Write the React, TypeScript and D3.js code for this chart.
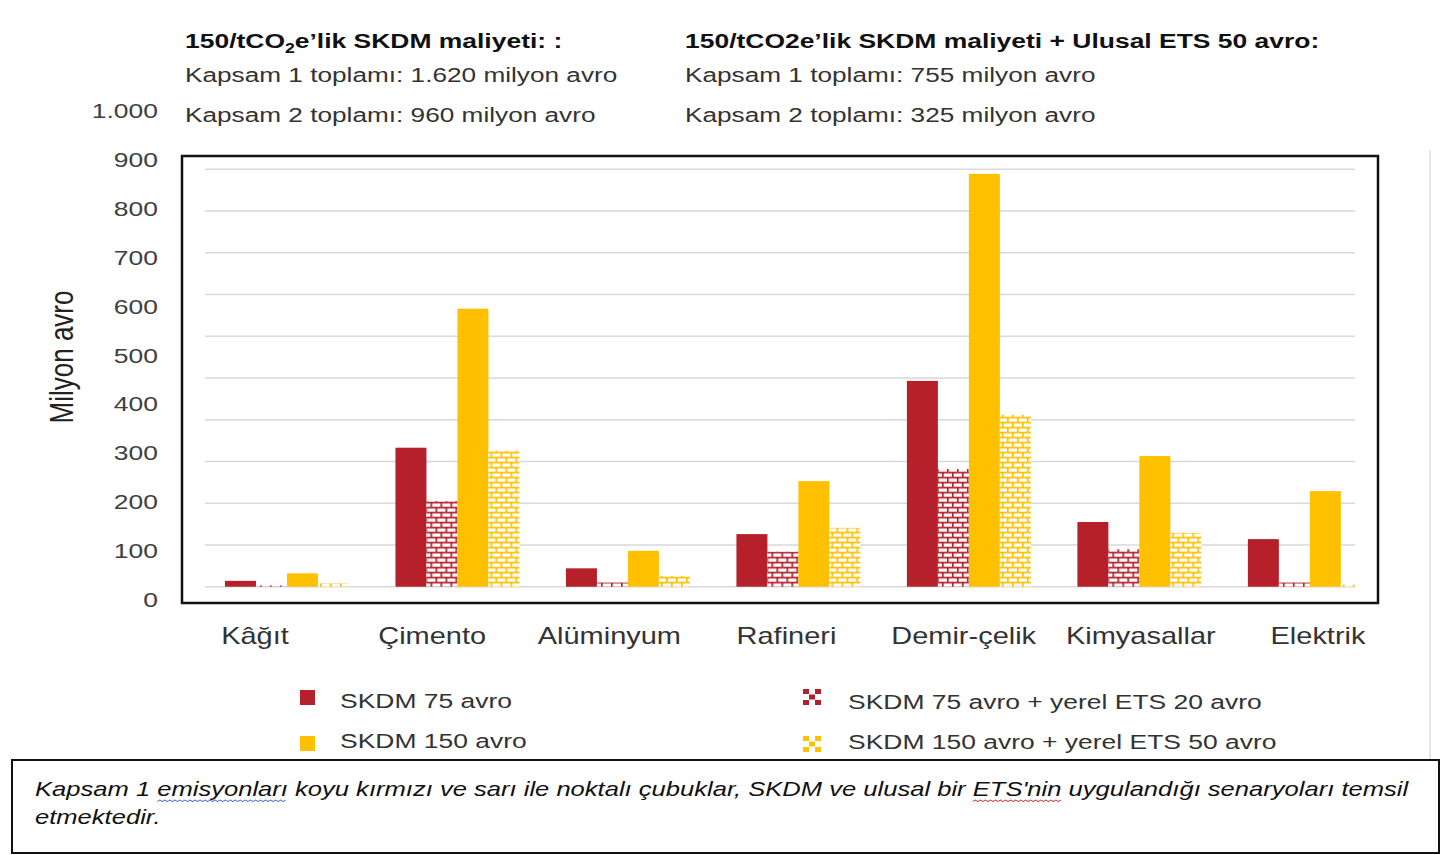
import React, { useEffect, useRef } from 'react';
import * as d3 from 'd3';

const categories = ['Kâğıt', 'Çimento', 'Alüminyum', 'Rafineri', 'Demir-çelik', 'Kimyasallar', 'Elektrik'];
const skdm75 = [14, 333, 44, 126, 493, 155, 114];
const skdm75Ets20 = [3, 205, 10, 84, 282, 90, 10];
const skdm150 = [32, 666, 86, 253, 989, 313, 229];
const skdm150Ets50 = [8, 326, 26, 141, 412, 129, 5];
const yTicks = [0, 100, 200, 300, 400, 500, 600, 700, 800, 900, 1000];

const seriesKeys = ['s75', 's75e', 's150', 's150e'];
const legendLabels = ['SKDM 75 avro', 'SKDM 150 avro', 'SKDM 75 avro + yerel ETS 20 avro', 'SKDM 150 avro + yerel ETS 50 avro'];

const leftHeader = ['Kapsam 1 toplamı: 1.620 milyon avro', 'Kapsam 2 toplamı: 960 milyon avro'];
const rightHeader = ['Kapsam 1 toplamı: 755 milyon avro', 'Kapsam 2 toplamı: 325 milyon avro'];
const captionLines = [
  "Kapsam 1 emisyonları koyu kırmızı ve sarı ile noktalı çubuklar, SKDM ve ulusal bir ETS'nin uygulandığı senaryoları temsil",
  'etmektedir.',
];

const RED = '#b5202b';
const YELLOW = '#ffc000';
const SX = 1.26; // the picture is stretched sideways
const FONT = '"Liberation Sans", Arial, sans-serif';

function App() {
  const ref = useRef(null);

  useEffect(() => {
    document.body.style.margin = '0';
    const svg = d3.select(ref.current);
    svg.selectAll('*').remove();

    const width = 1455;
    const height = 855;
    svg.attr('width', width).attr('height', height).style('background', '#fff').style('font-family', FONT);

    const txt = (x, y, s, size, opts = {}) =>
      svg
        .append('text')
        .attr('transform', `translate(${x},${y}) scale(${SX},1)`)
        .attr('font-size', size)
        .attr('fill', opts.fill || '#333')
        .attr('font-weight', opts.bold ? 'bold' : null)
        .attr('font-style', opts.italic ? 'italic' : null)
        .attr('text-anchor', opts.anchor || 'start')
        .text(s);

    // patterns
    const defs = svg.append('defs');
    const brick = (id, color) => {
      const p = defs
        .append('pattern')
        .attr('id', id)
        .attr('patternUnits', 'userSpaceOnUse')
        .attr('width', 10)
        .attr('height', 10)
        .attr('patternTransform', 'translate(0,586.7)');
      p.append('rect').attr('width', 10).attr('height', 10).attr('fill', '#fff');
      p.append('rect').attr('y', 0).attr('width', 10).attr('height', 1.7).attr('fill', color);
      p.append('rect').attr('y', 5).attr('width', 10).attr('height', 1.7).attr('fill', color);
      p.append('rect').attr('x', 0).attr('y', 0).attr('width', 1.7).attr('height', 5).attr('fill', color);
      p.append('rect').attr('x', 5).attr('y', 5).attr('width', 1.7).attr('height', 5).attr('fill', color);
    };
    brick('brickRed', RED);
    brick('brickYellow', YELLOW);
    defs.append('clipPath').attr('id', 'plotClip').append('rect').attr('x', 183).attr('y', 157).attr('width', 1173).attr('height', 446);

    const fills = { s75: RED, s75e: 'url(#brickRed)', s150: YELLOW, s150e: 'url(#brickYellow)' };

    // scales
    const y = d3.scaleLinear().domain([0, 1000]).range([586.7, 169.3]);
    const yLabel = d3.scaleLinear().domain([0, 1000]).range([600, 111]);
    const x = d3.scaleBand().domain(categories).range([201.8, 1395]).paddingInner(0.273).paddingOuter(0.136);
    const xs = d3.scaleBand().domain(seriesKeys).range([0, x.bandwidth()]);
    const xLabel = d3.scalePoint().domain(categories).range([255, 1318]);
    const fmt = d3.formatLocale({ decimal: ',', thousands: '.', grouping: [3], currency: ['', '€'] }).format(',d');

    // gridlines
    svg
      .append('g')
      .selectAll('line')
      .data(yTicks)
      .join('line')
      .attr('x1', 205)
      .attr('x2', 1355)
      .attr('y1', (d) => y(d))
      .attr('y2', (d) => y(d))
      .attr('stroke', '#d9d9d9')
      .attr('stroke-width', 1.5);

    // bars
    const rows = categories.map((c, i) => ({
      c,
      vals: [
        { k: 's75', v: skdm75[i] },
        { k: 's75e', v: skdm75Ets20[i] },
        { k: 's150', v: skdm150[i] },
        { k: 's150e', v: skdm150Ets50[i] },
      ],
    }));
    svg
      .append('g')
      .attr('clip-path', 'url(#plotClip)')
      .selectAll('g')
      .data(rows)
      .join('g')
      .attr('transform', (d) => `translate(${x(d.c)},0)`)
      .selectAll('rect')
      .data((d) => d.vals)
      .join('rect')
      .attr('x', (d) => xs(d.k))
      .attr('y', (d) => y(d.v))
      .attr('width', xs.bandwidth())
      .attr('height', (d) => y(0) - y(d.v))
      .attr('fill', (d) => fills[d.k]);

    // plot frame
    svg.append('rect').attr('x', 182).attr('y', 156).attr('width', 1196).attr('height', 447).attr('fill', 'none').attr('stroke', '#111').attr('stroke-width', 2.5);

    // y tick labels
    yTicks.forEach((t) => txt(158, yLabel(t) + 7, fmt(t), 21, { anchor: 'end', fill: '#404040' }));

    // y title
    svg
      .append('text')
      .attr('transform', `translate(73,357) scale(${SX},1) rotate(-90)`)
      .attr('text-anchor', 'middle')
      .attr('font-size', 26)
      .attr('fill', '#222')
      .text('Milyon avro');

    // x labels
    categories.forEach((c) => txt(xLabel(c), 644, c, 23, { anchor: 'middle', fill: '#333' }));

    // header
    const h1 = txt(185, 48, '150/tCO', 21, { bold: true, fill: '#111' });
    h1.append('tspan').attr('font-size', 14).attr('dy', 5).text('2');
    h1.append('tspan').attr('dy', -5).text('e’lik SKDM maliyeti: :');
    txt(685, 48, '150/tCO2e’lik SKDM maliyeti + Ulusal ETS 50 avro:', 21, { bold: true, fill: '#111' });
    leftHeader.forEach((s, i) => txt(185, 82 + i * 40, s, 20.8));
    rightHeader.forEach((s, i) => txt(685, 82 + i * 40, s, 20.8));

    // legend
    const lg = svg.append('g');
    lg.append('rect').attr('x', 300).attr('y', 690).attr('width', 15).attr('height', 15).attr('fill', RED);
    lg.append('rect').attr('x', 300).attr('y', 736).attr('width', 15).attr('height', 15).attr('fill', YELLOW);
    const cross = (x0, y0, color) => {
      [[0, 0], [12, 0], [6, 5.5], [0, 11], [12, 11]].forEach(([dx, dy]) =>
        lg.append('rect').attr('x', x0 + dx).attr('y', y0 + dy).attr('width', 6).attr('height', 5).attr('fill', color)
      );
    };
    cross(803, 689, RED);
    cross(803, 736, YELLOW);
    txt(340, 708, legendLabels[0], 21);
    txt(340, 748, legendLabels[1], 21);
    txt(848, 709, legendLabels[2], 21);
    txt(848, 749, legendLabels[3], 21);

    // decorative page edge
    svg.append('line').attr('x1', 1430).attr('x2', 1430).attr('y1', 150).attr('y2', 760).attr('stroke', '#ddd').attr('stroke-width', 1.5);

    // caption box
    svg.append('rect').attr('x', 12).attr('y', 760).attr('width', 1427).attr('height', 93).attr('fill', '#fff').attr('stroke', '#111').attr('stroke-width', 2);
    const cap = txt(35, 796, captionLines[0], 20.3, { italic: true, fill: '#111' });
    txt(35, 824, captionLines[1], 20.3, { italic: true, fill: '#111' });

    // spell-check squiggles under two words
    const node = cap.node();
    const squiggle = (word, color) => {
      const i = captionLines[0].indexOf(word);
      const x0 = node.getSubStringLength(0, i);
      const w = node.getSubStringLength(i, word.length);
      const pts = d3.range(0, Math.floor(w / 2) + 1).map((k) => [x0 + k * 2, k % 2 ? 4 : 5.5]);
      svg
        .append('path')
        .attr('transform', `translate(35,796) scale(${SX},1)`)
        .attr('d', d3.line()(pts))
        .attr('fill', 'none')
        .attr('stroke', color)
        .attr('stroke-width', 0.9);
    };
    squiggle('emisyonları', '#3b5bd0');
    squiggle("ETS'nin", '#d02020');
  }, []);

  return <svg ref={ref}></svg>;
}

export default App;
